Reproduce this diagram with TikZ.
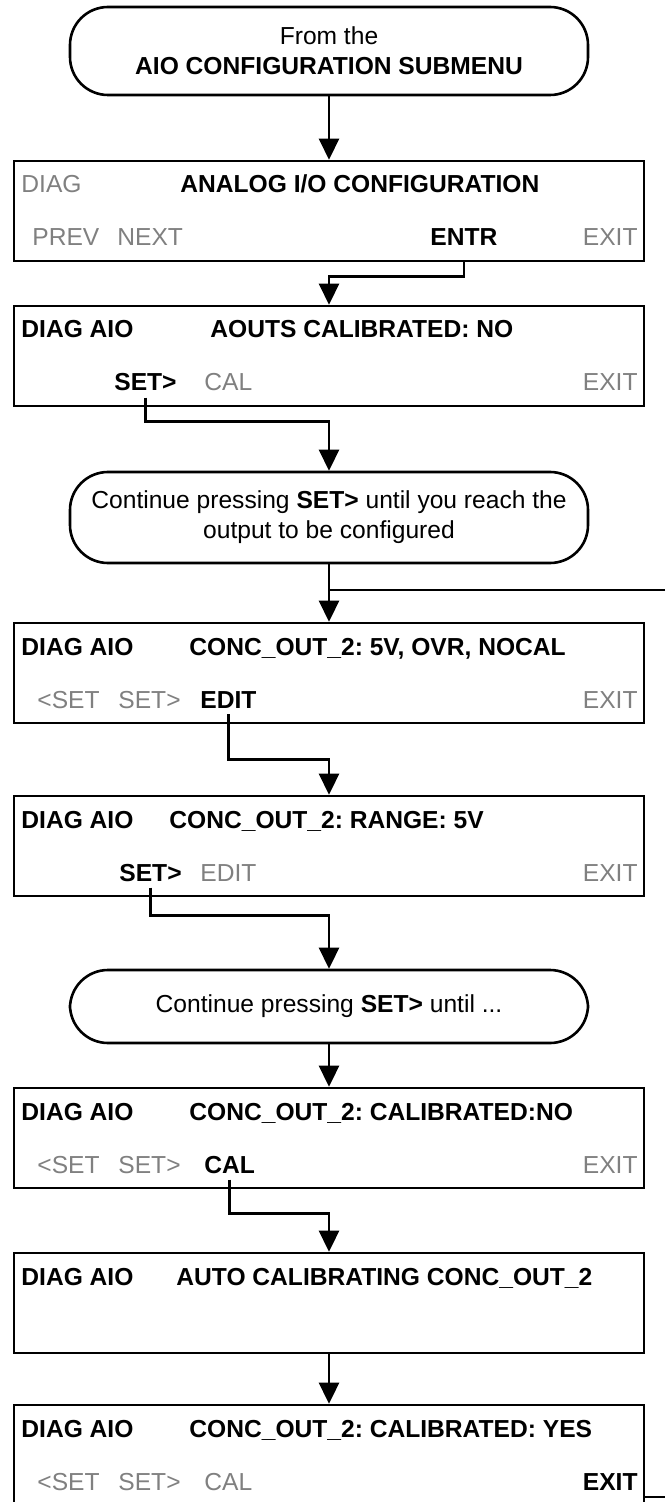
\documentclass[tikz,border=0pt]{standalone}
\usepackage{fontspec}
\setmainfont{Liberation Sans}
\usetikzlibrary{arrows.meta}
\definecolor{keygray}{gray}{0.5}
\frenchspacing

\begin{document}
\begin{tikzpicture}[
x=0.5pt,y=-0.5pt,
font=\fontsize{12.3}{15}\selectfont,
screen/.style={draw,line width=1.3pt,minimum width=315pt,minimum height=50pt,inner sep=0pt},
pill/.style={draw,line width=1.3pt,rounded corners=19pt,minimum width=259pt,inner sep=0pt,align=center},
soft/.style={anchor=base west,inner xsep=0pt,inner ysep=3pt,text=keygray},
hard/.style={anchor=base west,inner xsep=0pt,inner ysep=3pt,font=\fontsize{12.3}{15}\selectfont\bfseries},
flow/.style={line width=1.3pt,-{Triangle[width=10pt,length=10.5pt]}},
wire/.style={line width=1.3pt}
]
\useasboundingbox (0,0) rectangle (665,1502);

\node[pill,minimum height=44pt] (start) at (329,51) {From the\\\textbf{AIO CONFIGURATION SUBMENU}};

\node[screen] (m1) at (329,211) {};
\node[soft] (m1a) at (21,193) {DIAG};
\node[hard] (m1b) at (180,193) {ANALOG I/O CONFIGURATION};
\node[soft] (m1c) at (32,246) {PREV};
\node[soft] (m1d) at (117,246) {NEXT};
\node[hard] (m1e) at (430,246) {ENTR};
\node[soft,anchor=base east] (m1f) at (638,246) {EXIT};

\node[screen] (m2) at (329,356) {};
\node[hard] (m2a) at (21,338) {DIAG AIO};
\node[hard] (m2b) at (210,338) {AOUTS CALIBRATED: NO};
\node[hard] (m2c) at (114,391) {SET>};
\node[soft] (m2d) at (204,391) {CAL};
\node[soft,anchor=base east] (m2f) at (638,391) {EXIT};

\node[pill,minimum height=45.5pt] (more) at (329,517.5) {Continue pressing \textbf{SET>} until you reach the\\output to be configured};

\node[screen] (m3) at (329,673) {};
\node[hard] (m3a) at (21,655) {DIAG AIO};
\node[hard] (m3b) at (189,655) {CONC\_OUT\_2: 5V, OVR, NOCAL};
\node[soft] (m3c) at (37,708) {<SET};
\node[soft] (m3d) at (118,708) {SET>};
\node[hard] (m3e) at (200,708) {EDIT};
\node[soft,anchor=base east] (m3f) at (638,708) {EXIT};

\node[screen] (m4) at (329,846) {};
\node[hard] (m4a) at (21,828) {DIAG AIO};
\node[hard] (m4b) at (169,828) {CONC\_OUT\_2: RANGE: 5V};
\node[hard] (m4c) at (119,881) {SET>};
\node[soft] (m4d) at (200,881) {EDIT};
\node[soft,anchor=base east] (m4f) at (638,881) {EXIT};

\node[pill,minimum height=36.5pt] (until) at (329,1006.5) {Continue pressing \textbf{SET>} until ...};

\node[screen] (m5) at (329,1138) {};
\node[hard] (m5a) at (21,1120) {DIAG AIO};
\node[hard] (m5b) at (189,1120) {CONC\_OUT\_2: CALIBRATED:NO};
\node[soft] (m5c) at (37,1173) {<SET};
\node[soft] (m5d) at (118,1173) {SET>};
\node[hard] (m5e) at (204,1173) {CAL};
\node[soft,anchor=base east] (m5f) at (638,1173) {EXIT};

\node[screen] (m6) at (329,1303) {};
\node[hard] (m6a) at (21,1285) {DIAG AIO};
\node[hard] (m6b) at (176,1285) {AUTO CALIBRATING CONC\_OUT\_2};

\node[screen] (m7) at (329,1455) {};
\node[hard] (m7a) at (21,1437) {DIAG AIO};
\node[hard] (m7b) at (189,1437) {CONC\_OUT\_2: CALIBRATED: YES};
\node[soft] (m7c) at (37,1490) {<SET};
\node[soft] (m7d) at (118,1490) {SET>};
\node[soft] (m7e) at (204,1490) {CAL};
\node[hard,anchor=base east] (m7f) at (638,1490) {EXIT};

\coordinate (back) at (665,590);
\coordinate (out) at (665,1497);

\draw[flow] (start.south) -- (m1.north);
\draw[flow] (m1e.south |- m1.south) -- ([yshift=-7pt]m1e.south |- m1.south) -| (m2.north);
\draw[flow] (m2c.south) -- ([yshift=-7pt]m2c.south |- m2.south) -| (more.north);
\draw[flow] (more.south) -- (m3.north);
\draw[wire] (back) -- (back -| more.south);
\draw[flow] (m3e.south) -- ([yshift=-17.5pt]m3e.south |- m3.south) -| (m4.north);
\draw[flow] (m4c.south) -- ([yshift=-9pt]m4c.south |- m4.south) -| (until.north);
\draw[flow] (until.south) -- (m5.north);
\draw[flow] (m5e.south) -- ([yshift=-12pt]m5e.south |- m5.south) -| (m6.north);
\draw[flow] (m6.south) -- (m7.north);
\draw[wire] (m7.east |- out) -- (out);
\end{tikzpicture}
\end{document}
